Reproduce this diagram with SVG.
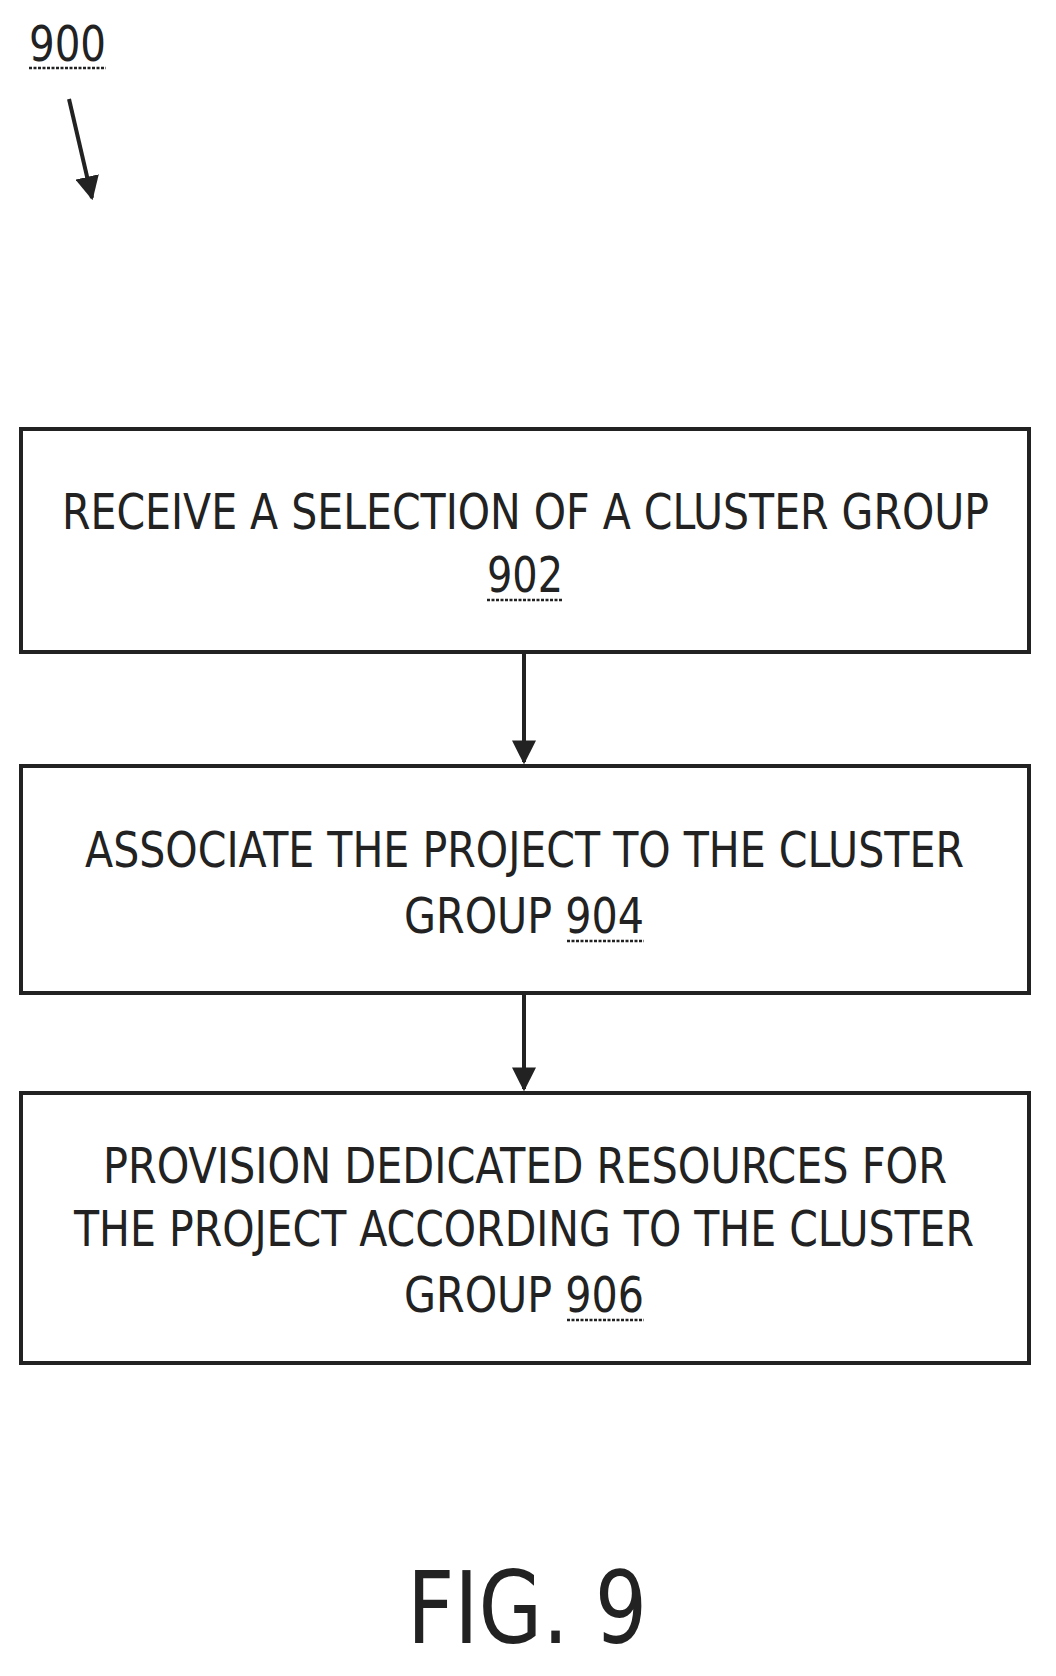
<svg xmlns="http://www.w3.org/2000/svg" width="1056" height="1676" viewBox="0 0 1056 1676">
<defs>
<style>
.box{fill:#fff;stroke:#222;stroke-width:4}
.t{font-family:"DejaVu Sans Condensed","Liberation Sans",sans-serif;font-size:50px;fill:#222}
.c{stroke:#222;stroke-width:4;fill:none}
.u{stroke:#222;stroke-width:2.5;stroke-dasharray:3 1.5}
</style>
<marker id="ah" viewBox="0 0 10 10" refX="9" refY="5" markerWidth="6" markerHeight="6" orient="auto" markerUnits="strokeWidth"><path d="M0,0 L10,5 L0,10 z" fill="#222"/></marker>
</defs>
<rect width="1056" height="1676" fill="#fff"/>
<g id="label900">
<text class="t" x="29" y="61" textLength="77" lengthAdjust="spacingAndGlyphs">900</text>
<line class="u" x1="29" y1="68" x2="106" y2="68"/>
<line class="c" x1="69" y1="99" x2="92" y2="198" marker-end="url(#ah)"/>
</g>
<g id="node902">
<rect class="box" x="21" y="429" width="1008" height="223"/>
<text class="t" x="62" y="529" textLength="927" lengthAdjust="spacingAndGlyphs">RECEIVE A SELECTION OF A CLUSTER GROUP</text>
<text class="t" x="487" y="592" textLength="76" lengthAdjust="spacingAndGlyphs">902</text>
<line class="u" x1="487" y1="600" x2="563" y2="600"/>
</g>
<g id="node904">
<rect class="box" x="21" y="766" width="1008" height="227"/>
<text class="t" x="85" y="867" textLength="879" lengthAdjust="spacingAndGlyphs">ASSOCIATE THE PROJECT TO THE CLUSTER</text>
<text class="t" x="404" y="933" textLength="240" lengthAdjust="spacingAndGlyphs">GROUP 904</text>
<line class="u" x1="567" y1="941" x2="644" y2="941"/>
</g>
<g id="node906">
<rect class="box" x="21" y="1093" width="1008" height="270"/>
<text class="t" x="103" y="1183" textLength="844" lengthAdjust="spacingAndGlyphs">PROVISION DEDICATED RESOURCES FOR</text>
<text class="t" x="74" y="1246" textLength="900" lengthAdjust="spacingAndGlyphs">THE PROJECT ACCORDING TO THE CLUSTER</text>
<text class="t" x="404" y="1312" textLength="240" lengthAdjust="spacingAndGlyphs">GROUP 906</text>
<line class="u" x1="567" y1="1320" x2="644" y2="1320"/>
</g>
<g id="connectors">
<line class="c" x1="524" y1="652" x2="524" y2="762" marker-end="url(#ah)"/>
<line class="c" x1="524" y1="993" x2="524" y2="1089" marker-end="url(#ah)"/>
</g>
<g id="figlabel">
<text class="t" x="407" y="1643" style="font-size:100px" textLength="240" lengthAdjust="spacingAndGlyphs">FIG. 9</text>
</g>
</svg>
